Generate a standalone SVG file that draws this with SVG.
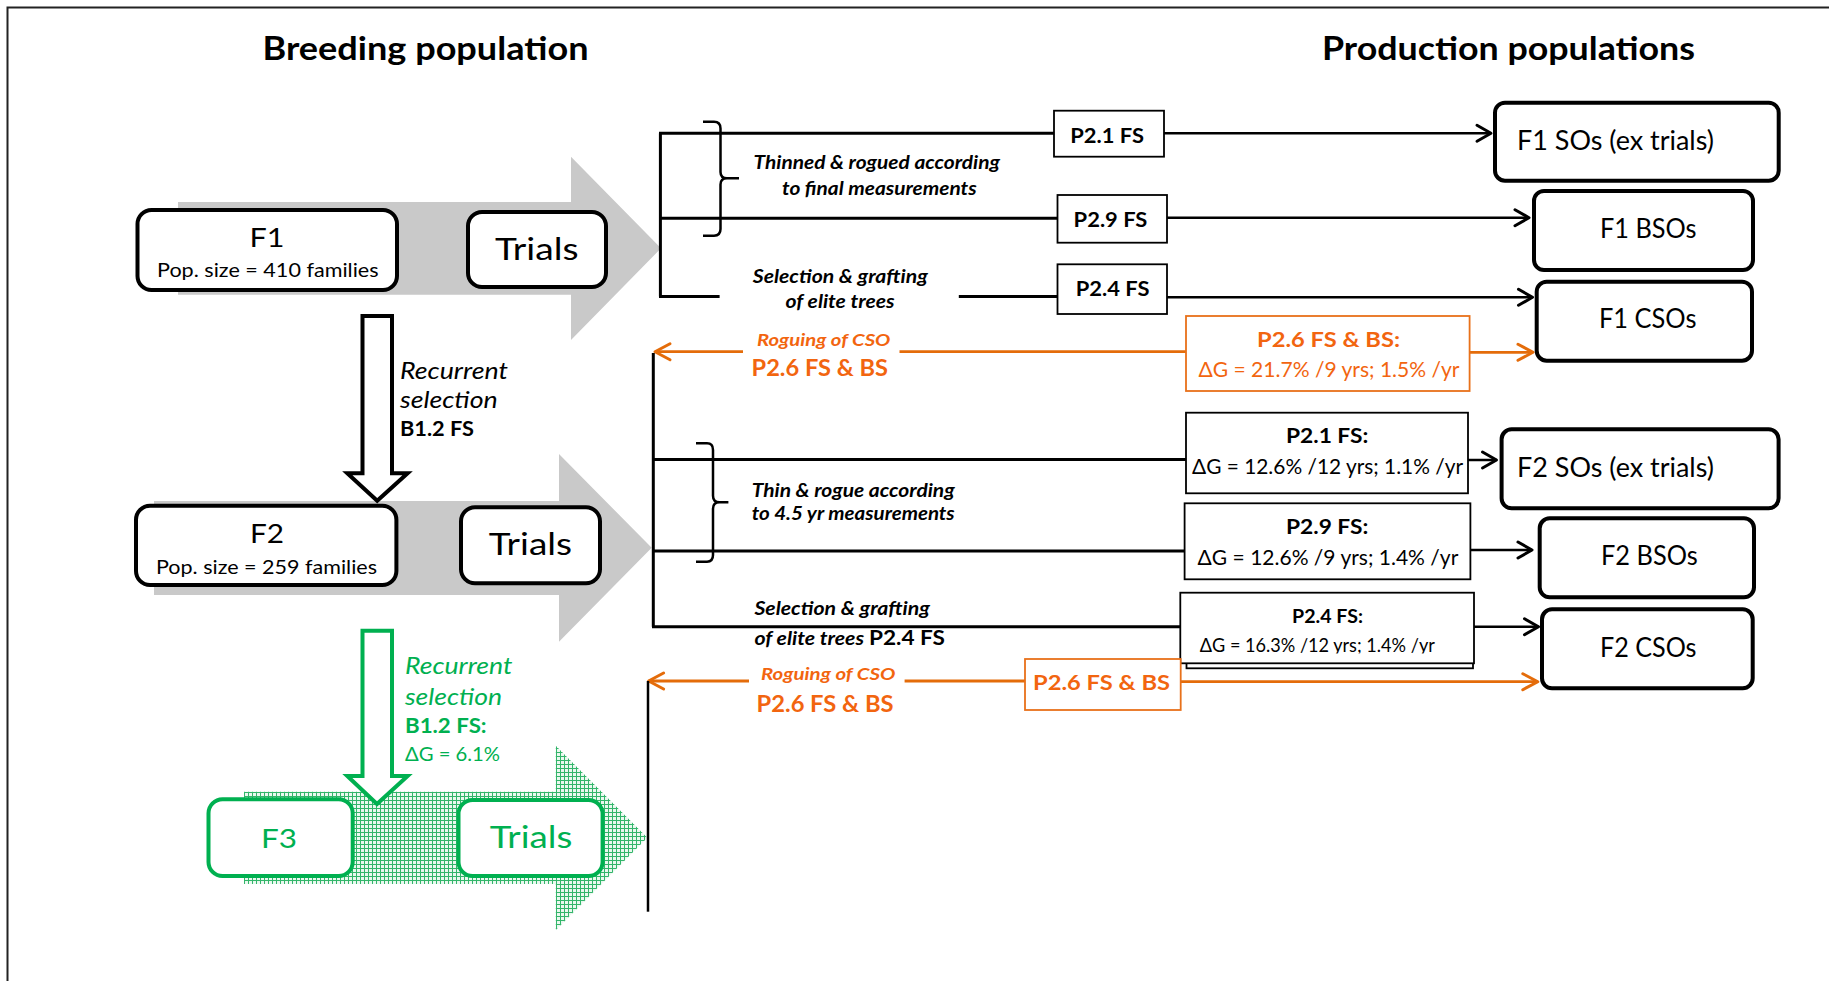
<svg xmlns="http://www.w3.org/2000/svg" width="1829" height="981" viewBox="0 0 1829 981">
<style>
text{font-family:Lato,"Liberation Sans","DejaVu Sans",sans-serif;fill:#000}
.b{font-weight:bold}
.i{font-style:italic}
.or{fill:#f2650f}
.gn{fill:#00b050}
.node{fill:#fff;stroke:#000;stroke-width:4}
.gnode{fill:#fff;stroke:#00b050;stroke-width:4}
.pbox{fill:#fff;stroke:#000;stroke-width:1.8}
.obox{fill:#fff;stroke:#e8711a;stroke-width:1.8}
.ln{fill:none;stroke:#000;stroke-width:3}
.la{fill:none;stroke:#000;stroke-width:2.5;marker-end:url(#ahb)}
.lo{fill:none;stroke:#e46c0a;stroke-width:2.8}
.loa{fill:none;stroke:#e46c0a;stroke-width:2.8;marker-end:url(#aho)}
</style>
<defs>
<marker id="ahb" markerUnits="userSpaceOnUse" viewBox="-20 -12 24 24" markerWidth="24" markerHeight="24" refX="0" refY="0" orient="auto" overflow="visible"><path d="M-14,-8 L0,0 L-14,8" fill="none" stroke="#000" stroke-width="3" stroke-linejoin="round" stroke-linecap="round"/></marker>
<marker id="aho" markerUnits="userSpaceOnUse" viewBox="-20 -12 24 24" markerWidth="24" markerHeight="24" refX="0" refY="0" orient="auto" overflow="visible"><path d="M-15,-8 L0,0 L-15,8" fill="none" stroke="#e46c0a" stroke-width="3" stroke-linejoin="round" stroke-linecap="round"/></marker>
<pattern id="hatch" width="4" height="4" patternUnits="userSpaceOnUse"><rect width="4" height="4" fill="#eaf8ef"/><path d="M0,0.5H4M0.5,0V4" stroke="#33b56a" stroke-width="1"/></pattern>
<clipPath id="clipP24"><rect x="1180" y="595" width="295" height="58.5"/></clipPath>
</defs>
<rect width="1829" height="981" fill="#fff"/>
<path d="M7.5,981 V7.5 H1829" fill="none" stroke="#222" stroke-width="2"/>

<g id="titles">
<text class="b" x="262.5" y="60" font-size="32" textLength="326" lengthAdjust="spacingAndGlyphs">Breeding population</text>
<text class="b" x="1322" y="60" font-size="32" textLength="373" lengthAdjust="spacingAndGlyphs">Production populations</text>
</g>

<g id="flow-arrows">
<polygon points="178,202 571,202 571,156.7 661,248.3 571,340 571,294.7 178,294.7" fill="#c9c9c9"/>
<polygon points="154,501 559,501 559,454 651.7,547.8 559,641.7 559,595 154,595" fill="#c9c9c9"/>
<polygon points="244,791.7 555.8,791.7 555.8,745.7 647.3,837.8 555.8,930 555.8,884 244,884" fill="url(#hatch)"/>
</g>

<g id="recurrent-1">
<polygon points="362.5,316 392,316 392,473.3 407.6,473.3 377.2,500.7 347.3,473.3 362.5,473.3" fill="#fff" stroke="#000" stroke-width="4"/>
<text class="i" x="400" y="378.7" font-size="22.3" textLength="108" lengthAdjust="spacingAndGlyphs">Recurrent</text>
<text class="i" x="400" y="408.3" font-size="22.3" textLength="97.7" lengthAdjust="spacingAndGlyphs">selection</text>
<text class="b" x="400" y="436" font-size="21" textLength="74" lengthAdjust="spacingAndGlyphs">B1.2 FS</text>
</g>

<g id="recurrent-2">
<polygon points="362.5,630.7 392,630.7 392,776 407.6,776 377,804 347.3,776 362.5,776" fill="#fff" stroke="#00b050" stroke-width="4"/>
<text class="i gn" x="405" y="674" font-size="22.3" textLength="107.5" lengthAdjust="spacingAndGlyphs">Recurrent</text>
<text class="i gn" x="405" y="705" font-size="22.3" textLength="97" lengthAdjust="spacingAndGlyphs">selection</text>
<text class="b gn" x="405" y="733.3" font-size="21" textLength="81.6" lengthAdjust="spacingAndGlyphs">B1.2 FS:</text>
<text class="gn" x="405" y="760.7" font-size="19.5" textLength="95" lengthAdjust="spacingAndGlyphs">ΔG = 6.1%</text>
</g>

<g id="F1">
<rect class="node" x="137.5" y="210" width="259.5" height="80" rx="14"/>
<text x="249.5" y="247" font-size="26.5" textLength="35" lengthAdjust="spacingAndGlyphs">F1</text>
<text x="157" y="277" font-size="18.6" textLength="221.6" lengthAdjust="spacingAndGlyphs">Pop. size = 410  families</text>
</g>
<g id="trials-1">
<rect class="node" x="468" y="212" width="138" height="75" rx="14"/>
<text x="495" y="260" font-size="31.7" textLength="83.6" lengthAdjust="spacingAndGlyphs">Trials</text>
</g>
<g id="F2">
<rect class="node" x="136" y="505.7" width="260.4" height="79.3" rx="14"/>
<text x="250" y="543.3" font-size="26.5" textLength="34" lengthAdjust="spacingAndGlyphs">F2</text>
<text x="156" y="574" font-size="18.6" textLength="221" lengthAdjust="spacingAndGlyphs">Pop. size = 259  families</text>
</g>
<g id="trials-2">
<rect class="node" x="461" y="507.3" width="139" height="76" rx="14"/>
<text x="488.8" y="555" font-size="31.7" textLength="83.2" lengthAdjust="spacingAndGlyphs">Trials</text>
</g>
<g id="F3">
<rect class="gnode" x="208.5" y="799.3" width="144.2" height="76.7" rx="14"/>
<text class="gn" x="261" y="848.3" font-size="26.5" textLength="36" lengthAdjust="spacingAndGlyphs">F3</text>
</g>
<g id="trials-3">
<rect class="gnode" x="458.5" y="800" width="144.1" height="76" rx="14"/>
<text class="gn" x="489.7" y="848.3" font-size="31.7" textLength="82.6" lengthAdjust="spacingAndGlyphs">Trials</text>
</g>

<g id="connectors">
<!-- group 1 -->
<path class="ln" d="M660.4,133.3 V296.5"/>
<path class="ln" d="M659,133.3 H1054"/>
<path class="ln" d="M659,218.3 H1057.5"/>
<path class="ln" d="M659,296.5 H719.6 M958.8,296.5 H1057.5"/>
<path class="la" d="M1164,133.3 H1491"/>
<path class="la" d="M1167,217.7 H1529"/>
<path class="la" d="M1167,297.3 H1532.5"/>
<path d="M703,121.7 H714 Q720.5,121.7 720.5,128.5 V172 Q720.5,178.3 727,178.3 H739 M727,178.3 Q720.5,178.3 720.5,184.6 V229 Q720.5,235.7 714,235.7 H703" fill="none" stroke="#000" stroke-width="2.5"/>
<path class="loa" d="M743,351.7 H655"/>
<path class="lo" d="M899.5,351.7 H1186.8"/>
<path class="loa" d="M1469.6,352.3 H1533"/>
<!-- group 2 -->
<path class="ln" d="M653.3,353 V626.7"/>
<path class="ln" d="M652,459.5 H1186.5"/>
<path class="ln" d="M652,551 H1185"/>
<path class="ln" d="M652,626.7 H1181"/>
<path class="la" d="M1468,460 H1496.5"/>
<path class="la" d="M1470.4,550 H1532"/>
<path class="la" d="M1474,626.7 H1538.5"/>
<path d="M696,443.3 H707 Q713,443.3 713,450 V495.8 Q713,502.3 719.5,502.3 H728.4 M719.5,502.3 Q713,502.3 713,508.8 V555 Q713,561.7 707,561.7 H696" fill="none" stroke="#000" stroke-width="2.5"/>
<path class="loa" d="M749,681 H648.6"/>
<path class="lo" d="M904.6,681 H1025.5"/>
<path class="loa" d="M1180.7,681.7 H1537.8"/>
<!-- group 3 -->
<path d="M648,681 V911.7" fill="none" stroke="#000" stroke-width="2.5"/>
</g>

<g id="labels">
<text class="b i" x="753.6" y="169" font-size="18.6" textLength="246.4" lengthAdjust="spacingAndGlyphs">Thinned  &amp; rogued according</text>
<text class="b i" x="782" y="195" font-size="18.6" textLength="194.6" lengthAdjust="spacingAndGlyphs">to final measurements</text>
<text class="b i" x="752.8" y="282.7" font-size="18.6" textLength="175" lengthAdjust="spacingAndGlyphs">Selection  &amp; grafting</text>
<text class="b i" x="785.5" y="308.3" font-size="18.6" textLength="109" lengthAdjust="spacingAndGlyphs">of elite  trees</text>
<text class="b i or" x="757" y="346" font-size="17.7" textLength="133.4" lengthAdjust="spacingAndGlyphs">Roguing of CSO</text>
<text class="b or" x="751.6" y="376" font-size="22.3" textLength="136.4" lengthAdjust="spacingAndGlyphs">P2.6  FS &amp; BS</text>
<text class="b i" x="751.7" y="496.7" font-size="18.6" textLength="203" lengthAdjust="spacingAndGlyphs">Thin &amp; rogue according</text>
<text class="b i" x="751.7" y="520" font-size="18.6" textLength="203" lengthAdjust="spacingAndGlyphs">to 4.5 yr measurements</text>
<text class="b i" x="754.4" y="615" font-size="18.6" textLength="175.6" lengthAdjust="spacingAndGlyphs">Selection &amp; grafting</text>
<text class="b i" x="754.4" y="645" font-size="18.6" textLength="109.6" lengthAdjust="spacingAndGlyphs">of elite  trees</text>
<text class="b" x="869" y="645" font-size="20" textLength="76" lengthAdjust="spacingAndGlyphs">P2.4 FS</text>
<text class="b i or" x="761" y="680" font-size="17.7" textLength="134.4" lengthAdjust="spacingAndGlyphs">Roguing of CSO</text>
<text class="b or" x="756.6" y="711.7" font-size="22.3" textLength="137" lengthAdjust="spacingAndGlyphs">P2.6  FS &amp; BS</text>
</g>

<g id="P21-FS-1">
<rect class="pbox" x="1054" y="110.7" width="110" height="46"/>
<text class="b" x="1070.3" y="142.7" font-size="20" textLength="73.8" lengthAdjust="spacingAndGlyphs">P2.1 FS</text>
</g>
<g id="P29-FS-1">
<rect class="pbox" x="1057.5" y="195" width="109.5" height="47.7"/>
<text class="b" x="1073.6" y="226.7" font-size="20" textLength="73.8" lengthAdjust="spacingAndGlyphs">P2.9 FS</text>
</g>
<g id="P24-FS-1">
<rect class="pbox" x="1057.5" y="264.3" width="109.5" height="49.7"/>
<text class="b" x="1075.7" y="296" font-size="20" textLength="73.8" lengthAdjust="spacingAndGlyphs">P2.4 FS</text>
</g>
<g id="P26-1">
<rect class="obox" x="1186" y="316" width="283.6" height="75"/>
<text class="b or" x="1257" y="346.7" font-size="21" textLength="143" lengthAdjust="spacingAndGlyphs">P2.6  FS &amp; BS:</text>
<text class="or" x="1198.5" y="376.7" font-size="21" textLength="261" lengthAdjust="spacingAndGlyphs">ΔG = 21.7% /9 yrs; 1.5%  /yr</text>
</g>

<g id="P21-FS-2">
<rect class="pbox" x="1186" y="412.7" width="282" height="80.6"/>
<text class="b" x="1286" y="443.3" font-size="20.5" textLength="82.4" lengthAdjust="spacingAndGlyphs">P2.1 FS:</text>
<text x="1192" y="474" font-size="20.5" textLength="271" lengthAdjust="spacingAndGlyphs">ΔG = 12.6% /12 yrs; 1.1% /yr</text>
</g>
<g id="P29-FS-2">
<rect class="pbox" x="1184.6" y="503.3" width="285.8" height="76"/>
<text class="b" x="1286" y="534" font-size="20.5" textLength="82.4" lengthAdjust="spacingAndGlyphs">P2.9 FS:</text>
<text x="1197.6" y="565" font-size="20.5" textLength="260.7" lengthAdjust="spacingAndGlyphs">ΔG = 12.6% /9 yrs; 1.4%  /yr</text>
</g>
<g id="P24-FS-2">
<rect class="pbox" x="1186.5" y="597" width="286.5" height="71.3"/>
<rect class="pbox" x="1180.3" y="592.7" width="293.7" height="70.6"/>
<text class="b" x="1292" y="623.3" font-size="19" textLength="71" lengthAdjust="spacingAndGlyphs">P2.4 FS:</text>
<text x="1199.8" y="651.7" font-size="19" textLength="235" lengthAdjust="spacingAndGlyphs" clip-path="url(#clipP24)">ΔG = 16.3% /12 yrs; 1.4% /yr</text>
</g>
<g id="P26-2">
<rect class="obox" x="1025" y="659" width="155.7" height="51"/>
<text class="b or" x="1033" y="690" font-size="21" textLength="137" lengthAdjust="spacingAndGlyphs">P2.6  FS &amp; BS</text>
</g>

<g id="F1-SOs">
<rect class="node" x="1495" y="102.7" width="283.7" height="78" rx="10"/>
<text x="1517" y="150" font-size="27" textLength="197" lengthAdjust="spacingAndGlyphs">F1 SOs (ex trials)</text>
</g>
<g id="F1-BSOs">
<rect class="node" x="1534" y="191" width="219" height="79" rx="10"/>
<text x="1600" y="238.3" font-size="27" textLength="96.5" lengthAdjust="spacingAndGlyphs">F1 BSOs</text>
</g>
<g id="F1-CSOs">
<rect class="node" x="1536.7" y="281.7" width="215.3" height="79" rx="10"/>
<text x="1599" y="328.3" font-size="27" textLength="97.5" lengthAdjust="spacingAndGlyphs">F1 CSOs</text>
</g>
<g id="F2-SOs">
<rect class="node" x="1501.6" y="429.3" width="277" height="79" rx="10"/>
<text x="1517" y="477.3" font-size="27" textLength="197" lengthAdjust="spacingAndGlyphs">F2 SOs (ex trials)</text>
</g>
<g id="F2-BSOs">
<rect class="node" x="1539.7" y="518.3" width="214.3" height="79" rx="10"/>
<text x="1601" y="565" font-size="27" textLength="96.7" lengthAdjust="spacingAndGlyphs">F2 BSOs</text>
</g>
<g id="F2-CSOs">
<rect class="node" x="1542" y="609.3" width="210.7" height="79" rx="10"/>
<text x="1600" y="656.7" font-size="27" textLength="96.5" lengthAdjust="spacingAndGlyphs">F2 CSOs</text>
</g>
</svg>
